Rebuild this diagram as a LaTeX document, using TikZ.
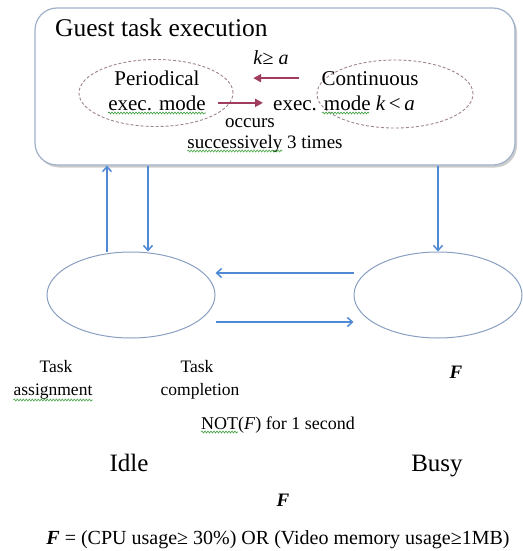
\documentclass[tikz,border=0pt]{standalone}
\usepackage{fontspec}
\setmainfont{Liberation Serif}
\usetikzlibrary{shapes.geometric,arrows.meta,shadows,decorations.pathmorphing,positioning}

\definecolor{boxedge}{HTML}{9FB1C9}
\definecolor{flowblue}{HTML}{5089D4}
\definecolor{modered}{HTML}{A03D5C}
\definecolor{modeedge}{HTML}{A08590}
\definecolor{stateedge}{HTML}{889FC2}
\definecolor{spellgreen}{HTML}{3FA23F}
\newcommand{\fsz}[1]{\fontsize{#1}{#1}\selectfont}

\tikzset{
  guestbox/.style={draw=boxedge, line width=1.2pt, rounded corners=22pt, fill=white,
    minimum width=480pt, minimum height=157pt,
    drop shadow={shadow xshift=2pt, shadow yshift=-2.5pt, opacity=.4}},
  modeell/.style={ellipse, draw=modeedge, densely dashed, line width=.9pt, inner sep=0},
  stateell/.style={ellipse, draw=stateedge, line width=1pt, minimum width=168pt, minimum height=86pt},
  flow/.style={draw=flowblue, line width=1.5pt, -{Straight Barb[length=5pt,width=9pt]}},
  modearrow/.style={draw=modered, line width=2.2pt, -{Triangle[length=8pt,width=8pt]}},
  lbl/.style={inner sep=0, anchor=base},
  spellmark/.style={draw=spellgreen, line width=.6pt, decorate,
    decoration={snake, amplitude=1pt, segment length=3pt}}
}

\begin{document}
\begin{tikzpicture}[x=1pt, y=-1pt]
    \useasboundingbox (0,0) rectangle (522,551);
    % Frame of the guest task execution
    \node[guestbox] (guest) at (275,86.5) {};
    \node[lbl, anchor=base west] (title) at (55,37) {\fsz{25.5}Guest task execution};
    % The two execution modes
    \node[modeell, minimum width=154pt, minimum height=67pt] (perio) at (156,93) {};
    \node[modeell, minimum width=156pt, minimum height=68pt] (contin) at (395,94) {};
    \node[lbl] (pname) at (157,85) {\fsz{21}Periodical};
    \node[lbl] (pexec) at (157,110) {\fsz{21}exec. mode};
    \node[lbl] (cname) at (370,85) {\fsz{21}Continuous};
    \node[lbl] (cexec) at (344,110) {\fsz{21}exec. mode \textit{k}\,<\,\textit{a}};
    \node[lbl] (kga) at (271,64) {\fsz{20}\textit{k}≥ \textit{a}};
    \node[lbl] (occ) at (250,127) {\fsz{19}occurs};
    \node[lbl] (succ) at (265,148) {\fsz{19}successively 3 times};
    % Switching between the modes
    \draw[modearrow] ([xshift=-22pt]cname.west) -- (cname.west -| kga.west);
    \draw[modearrow, shorten <=12pt, shorten >=10pt] (pexec.east) -- (cexec.west);
    % Idle and Busy states
    \node[stateell] (idle) at (131,295) {};
    \node[stateell] (busy) at (438,295) {};
    % Transitions
    \draw[flow] ([xshift=-24pt]idle.north) -- ([xshift=-24pt]idle.north |- guest.south);
    \draw[flow] ([xshift=17pt]idle.north |- guest.south) -- ([xshift=17pt]idle.north);
    \draw[flow] (busy.north |- guest.south) -- (busy.north);
    \draw[flow] ([yshift=22pt]busy.west) -- ([yshift=22pt]busy.west -| idle.east);
    \draw[flow] ([yshift=-27pt]idle.east) -- ([yshift=-27pt]idle.east -| busy.west);
    % Labels of the transitions and states
    \node[lbl] (task1) at (56,372) {\fsz{17.5}Task};
    \node[lbl] (assign) at (53,395) {\fsz{17.5}assignment};
    \node[lbl] (task2) at (197,372) {\fsz{17.5}Task};
    \node[lbl] (compl) at (200,395) {\fsz{17.5}completion};
    \node[lbl] (busyF) at (456,378) {\fsz{19}\textbf{\textit{F}}};
    \node[lbl] (notF) at (278,429) {\fsz{18}NOT(\textit{F}) for 1 second};
    \node[lbl] (idlename) at (129,471) {\fsz{25}Idle};
    \node[lbl] (busyname) at (437,471) {\fsz{25}Busy};
    \node[lbl] (idleF) at (283,506) {\fsz{19}\textbf{\textit{F}}};
    \node[lbl] (formula) at (278,544) {\fsz{20}\textbf{\textit{F}} = (CPU usage≥ 30\%) OR (Video memory usage≥1MB)};
    % Spell check marks
    \draw[spellmark] ([yshift=-3pt]pexec.base west) -- ([yshift=-3pt]pexec.base east);
    \draw[spellmark] ([xshift=49pt,yshift=-3pt]cexec.base west) -- ++(47,0);
    \draw[spellmark] ([yshift=-3pt]succ.base west) -- ++(95,0);
    \draw[spellmark] ([yshift=-5pt]assign.base west) -- ([yshift=-5pt]assign.base east);
    \draw[spellmark] ([yshift=-3pt]notF.base west) -- ++(37,0);
\end{tikzpicture}
\end{document}
